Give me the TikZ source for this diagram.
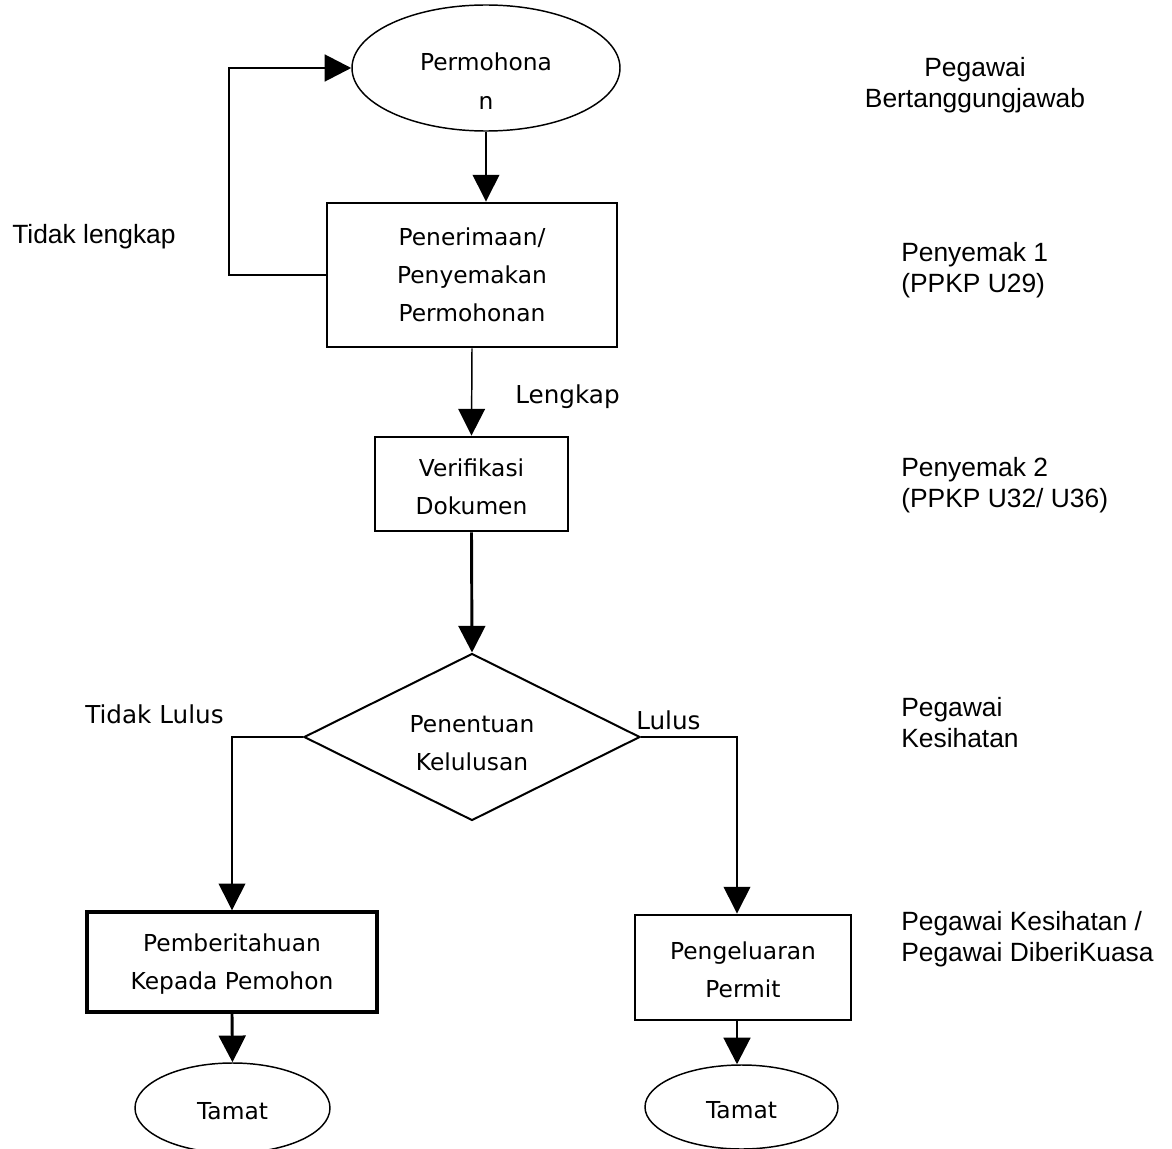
\documentclass[tikz,border=0pt]{standalone}
\usepackage{fontspec}
\setmainfont{Liberation Sans}
\newfontfamily\comic{DejaVu Sans}
\usetikzlibrary{shapes.geometric,arrows.meta}

\tikzset{
	proc/.style={draw, rectangle, line width=2.2pt, align=center, inner sep=0pt, font=\comic\fontsize{17.5}{28.5}\selectfont},
	term/.style={draw, ellipse, line width=1.1pt, align=center, inner sep=0pt, font=\comic\fontsize{17.5}{28.5}\selectfont},
	dec/.style={draw, diamond, aspect=2, line width=1.5pt, align=center, inner sep=0pt, font=\comic\fontsize{17.5}{28.5}\selectfont},
	thinline/.style={line width=1.1pt},
	thickline/.style={line width=2.2pt},
	arr/.style={-{Triangle[length=20pt,width=20pt]}},
	side/.style={inner sep=0pt, align=left, anchor=north west, font=\fontsize{19.8}{23}\selectfont},
	remark/.style={inner sep=0pt, anchor=base west, font=\comic\fontsize{18.5}{21}\selectfont}
}

\begin{document}
\begin{tikzpicture}[x=0.75pt, y=-0.75pt]
					\useasboundingbox[fill=white] (0,0) rectangle (1172,1149);

					% flow
					\node[term, minimum width=201pt, minimum height=94.5pt] (perm) at (486,68) {\rule{0pt}{33pt}Permohona\\n};
					\node[proc, minimum width=217.5pt, minimum height=108pt] (terima) at (472,275) {Penerimaan/\\Penyemakan\\Permohonan};
					\node[proc, minimum width=144.75pt, minimum height=70.5pt] (verif) at (471.5,484) {\rule{0pt}{17pt}Verifikasi\\Dokumen};
					\node[dec, minimum width=252pt, minimum height=125.25pt] (tentu) at (472,737) {\rule{0pt}{22pt}Penentuan\\Kelulusan};
					\node[proc, minimum width=217.5pt, minimum height=75pt, line width=2.6pt] (beritahu) at (232,962) {\rule{0pt}{17pt}Pemberitahuan\\Kepada Pemohon};
					\node[proc, minimum width=162pt, minimum height=78.75pt] (keluar) at (743,967.5) {\rule{0pt}{17pt}Pengeluaran\\Permit};
					\node[term, minimum width=146.25pt, minimum height=67.5pt] (tamat1) at (232.5,1108) {\rule{0pt}{18pt}Tamat};
					\node[term, minimum width=144.75pt, minimum height=63pt] (tamat2) at (741.5,1107) {\rule{0pt}{18pt}Tamat};

					% bends
					\coordinate (loop) at (229,0);
					\coordinate (lulusx) at (737,0);

					% arrows
					\draw[thinline, arr] (perm.south) -- (perm.south |- terima.north);
					\draw[thickline, arr]
								 (terima.west)
							  -| (loop |- perm.west)
							  -- (perm.west);
					\draw[thinline, arr] (terima.south) -- (verif.north);
					\draw[thickline, arr] (verif.south) -- (tentu.north);
					\draw[thinline, arr]
								 (tentu.west)
							  -- (tentu.west -| beritahu.north)
							  -- (beritahu.north);
					\draw[thinline, arr]
								 (tentu.east)
							  -- (tentu.east -| lulusx)
							  -- (lulusx |- keluar.north);
					\draw[thickline, arr] (beritahu.south) -- (tamat1.north);
					\draw[thickline, arr] (lulusx |- keluar.south) -- (lulusx |- tamat2.north);

					% branch labels
					\node[remark] (lengkap) at (515,403) {Lengkap};
					\node[remark] (tlulus) at (85,723) {Tidak Lulus};
					\node[remark] (lulus) at (636,729) {Lulus};
					\node[side, anchor=base west] (tlengkap) at (12,243) {Tidak lengkap};

					% officers
					\node[side, align=center, anchor=north] (pegawai) at (975,57) {Pegawai\\Bertanggungjawab};
					\node[side] (penyemak1) at (901,242) {Penyemak 1\\(PPKP U29)};
					\node[side] (penyemak2) at (901,457) {Penyemak 2\\(PPKP U32/ U36)};
					\node[side] (kesihatan) at (901,697) {Pegawai\\Kesihatan};
					\node[side] (kuasa) at (901,911) {Pegawai Kesihatan /\\Pegawai DiberiKuasa};
				\end{tikzpicture}
\end{document}
